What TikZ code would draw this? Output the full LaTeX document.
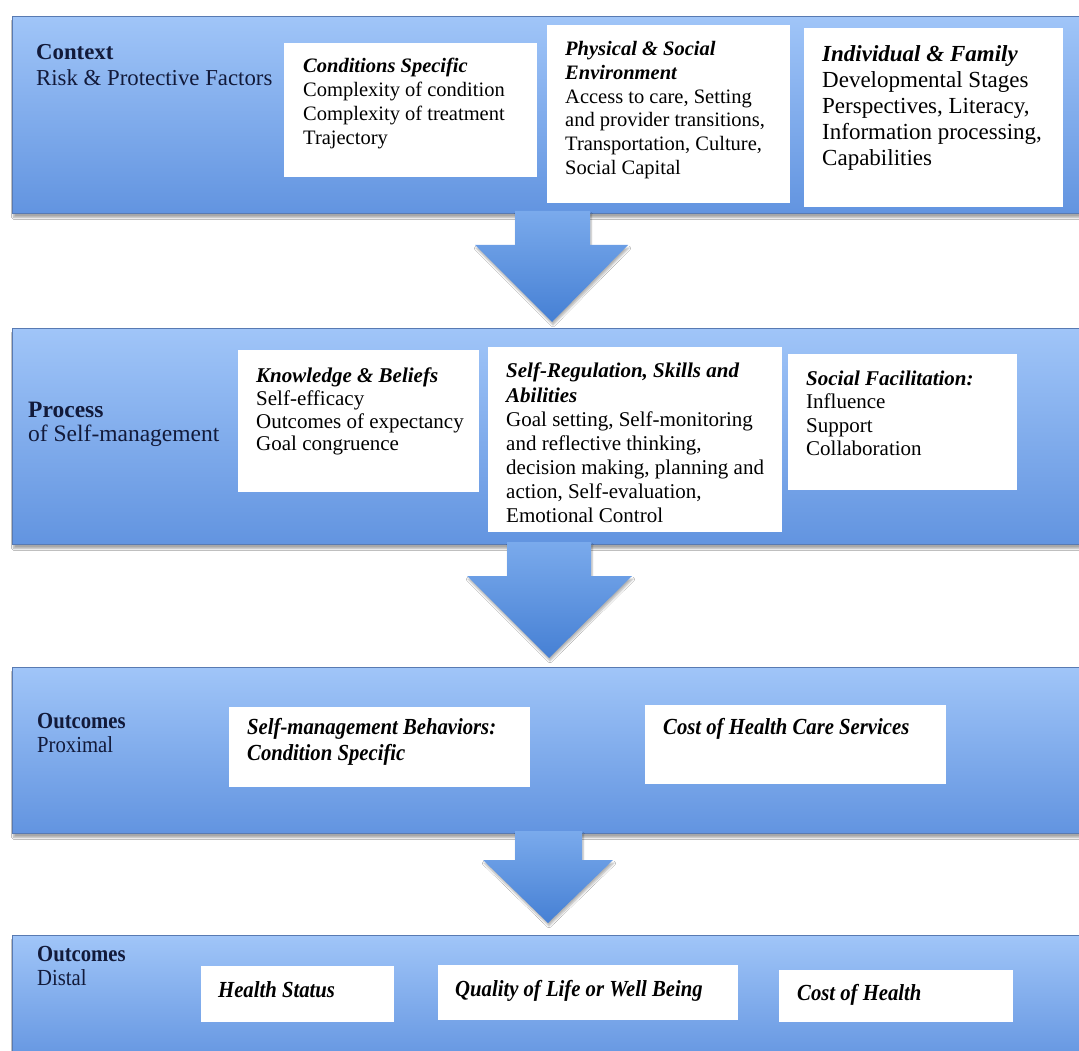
\documentclass[tikz,border=0pt]{standalone}
\usepackage{fontspec}
\setmainfont{Liberation Serif}
\newfontfamily\narrowfont[FakeStretch=0.9]{Liberation Serif}
\usetikzlibrary{shadows.blur}

\definecolor{bandtop}{RGB}{160,197,248}
\definecolor{bandbot}{RGB}{98,148,224}
\definecolor{bandedge}{RGB}{88,122,178}
\definecolor{arrtop}{RGB}{122,170,236}
\definecolor{arrbot}{RGB}{70,128,212}
\definecolor{labeltxt}{RGB}{18,26,58}

\tikzset{
  band/.style={draw=bandedge, line width=1pt, top color=bandtop, bottom color=bandbot,
    anchor=north west, inner sep=0pt, minimum width=1090pt,
    blur shadow={shadow xshift=1pt, shadow yshift=-4pt, shadow opacity=35, shadow blur steps=6}},
  blockarrow/.style={top color=arrtop, bottom color=arrbot, draw=none,
    blur shadow={shadow xshift=1pt, shadow yshift=-3pt, shadow opacity=30, shadow blur steps=6}},
  wbox/.style={fill=white, draw=none, anchor=north west, inner sep=0pt},
  boxtext/.style={anchor=north west, inner sep=0pt, align=left, text=black},
  bandlabel/.style={anchor=north west, inner sep=0pt, align=left, text=labeltxt},
}
\newcommand{\hd}[1]{\textbf{\textit{#1}}}

\begin{document}
\begin{tikzpicture}[x=1pt,y=-1pt]
\clip (0,0) rectangle (1079,1051);
\fill[white] (0,0) rectangle (1079,1051);

% bands
\node[band, minimum height=197pt] (b1) at (12,16) {};
\node[band, minimum height=216pt] (b2) at (12,328) {};
\node[band, minimum height=166pt] (b3) at (12,667) {};
\node[band, minimum height=130pt] (b4) at (12,935) {};

% block arrows
\path[blockarrow] (515,211) -- (590,211) -- (590,245) -- (628,245) -- (552,322)
  -- (475,245) -- (515,245) -- cycle;
\path[blockarrow] (507,542) -- (591,542) -- (591,576) -- (632,576) -- (549,658)
  -- (467,576) -- (507,576) -- cycle;
\path[blockarrow] (515,831) -- (582,831) -- (582,860) -- (613,860) -- (548,923)
  -- (483,860) -- (515,860) -- cycle;

% ---------- band 1 ----------
\node[bandlabel, font=\fontsize{22.8}{26}\selectfont] (l1) at (36,44)
  {\textbf{Context}\\Risk \& Protective Factors};

\node[wbox, minimum width=253pt, minimum height=134pt] (c1) at (284,43) {};
\node[boxtext, font=\fontsize{20.5}{24}\selectfont] (c1t) at (303,58)
  {\hd{Conditions Specific}\\Complexity of condition\\Complexity of treatment\\Trajectory};

\node[wbox, minimum width=243pt, minimum height=178pt] (c2) at (547,25) {};
\node[boxtext, font=\fontsize{20.5}{23.8}\selectfont] (c2t) at (565,41)
  {\hd{Physical \& Social}\\\hd{Environment}\\Access to care, Setting\\and provider transitions,\\Transportation, Culture,\\Social Capital};

\node[wbox, minimum width=259pt, minimum height=179pt] (c3) at (804,28) {};
\node[boxtext, font=\fontsize{23}{26}\selectfont] (c3t) at (822,45)
  {\hd{Individual \& Family}\\Developmental Stages\\Perspectives, Literacy,\\Information processing,\\Capabilities};

% ---------- band 2 ----------
\node[bandlabel, font=\fontsize{23.5}{23.5}\selectfont] (l2) at (28,402)
  {\textbf{Process}\\of Self-management};

\node[wbox, minimum width=241pt, minimum height=142pt] (p1) at (238,350) {};
\node[boxtext, font=\fontsize{21}{22.6}\selectfont] (p1t) at (256,368)
  {\hd{Knowledge \& Beliefs}\\Self-efficacy\\Outcomes of expectancy\\Goal congruence};

\node[wbox, minimum width=294pt, minimum height=185pt] (p2) at (488,347) {};
\node[boxtext, font=\fontsize{21}{24.1}\selectfont] (p2t) at (506,363)
  {\hd{Self-Regulation, Skills and}\\\hd{Abilities}\\Goal setting, Self-monitoring\\and reflective thinking,\\decision making, planning and\\action, Self-evaluation,\\Emotional Control};

\node[wbox, minimum width=229pt, minimum height=136pt] (p3) at (788,354) {};
\node[boxtext, font=\fontsize{21}{23.2}\selectfont] (p3t) at (806,371)
  {\hd{Social Facilitation:}\\Influence\\Support\\Collaboration};

% ---------- band 3 ----------
\node[bandlabel, font=\narrowfont\fontsize{23}{24.5}\selectfont] (l3) at (37,713)
  {\textbf{Outcomes}\\Proximal};

\node[wbox, minimum width=301pt, minimum height=80pt] (o1) at (229,707) {};
\node[boxtext, font=\narrowfont\fontsize{23}{26}\selectfont] (o1t) at (247,718)
  {\hd{Self-management Behaviors:}\\\hd{Condition Specific}};

\node[wbox, minimum width=301pt, minimum height=79pt] (o2) at (645,705) {};
\node[boxtext, font=\narrowfont\fontsize{23}{26}\selectfont] (o2t) at (663,718)
  {\hd{Cost of Health Care Services}};

% ---------- band 4 ----------
\node[bandlabel, font=\narrowfont\fontsize{23}{24.5}\selectfont] (l4) at (37,946)
  {\textbf{Outcomes}\\Distal};

\node[wbox, minimum width=193pt, minimum height=56pt] (d1) at (201,966) {};
\node[boxtext, font=\narrowfont\fontsize{23}{26}\selectfont] (d1t) at (218,981)
  {\hd{Health Status}};

\node[wbox, minimum width=300pt, minimum height=55pt] (d2) at (438,965) {};
\node[boxtext, font=\narrowfont\fontsize{23}{26}\selectfont] (d2t) at (455,980)
  {\hd{Quality of Life or Well Being}};

\node[wbox, minimum width=234pt, minimum height=52pt] (d3) at (779,970) {};
\node[boxtext, font=\narrowfont\fontsize{23}{26}\selectfont] (d3t) at (797,984)
  {\hd{Cost of Health}};
\end{tikzpicture}
\end{document}
